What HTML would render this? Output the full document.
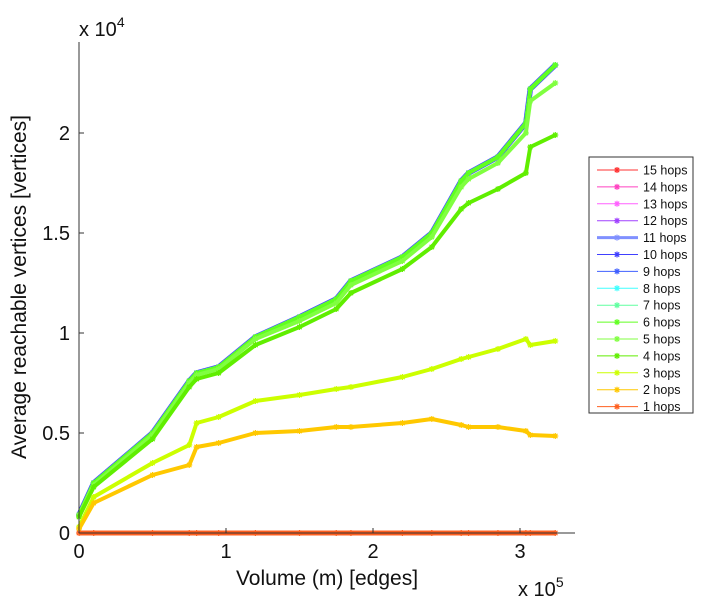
<!DOCTYPE html>
<html><head><meta charset="utf-8"><style>
body{margin:0;background:#fff;}
svg text{font-family:"Liberation Sans",sans-serif;fill:#111;}
</style></head><body>
<svg id="chart" width="703" height="600" viewBox="0 0 703 600" xmlns="http://www.w3.org/2000/svg">
<g id="plot"></g>
<g id="axes"></g>
<g id="legend"></g>
</svg>
<script>
const xValues = [0,0.1,0.5,0.75,0.8,0.95,1.2,1.5,1.75,1.85,2.2,2.4,2.6,2.65,2.85,3.04,3.07,3.24];
const hopsTop = [0.09,0.25,0.5,0.76,0.80,0.83,0.98,1.08,1.17,1.26,1.38,1.50,1.76,1.80,1.88,2.05,2.22,2.34];
const hops5 = [0.09,0.24,0.49,0.75,0.79,0.82,0.97,1.06,1.15,1.24,1.36,1.48,1.73,1.77,1.85,2.00,2.16,2.25];
const hops4 = [0.08,0.23,0.47,0.73,0.77,0.80,0.94,1.03,1.12,1.20,1.32,1.43,1.62,1.65,1.72,1.80,1.93,1.99];
const hops3 = [0.03,0.18,0.35,0.44,0.55,0.58,0.66,0.69,0.72,0.73,0.78,0.82,0.87,0.88,0.92,0.97,0.94,0.96];
const hops2 = [0.02,0.15,0.29,0.34,0.43,0.45,0.50,0.51,0.53,0.53,0.55,0.57,0.54,0.53,0.53,0.51,0.49,0.485];
const hops1 = [0,0,0,0,0,0,0,0,0,0,0,0,0,0,0,0,0,0];
const seriesNames = ["15 hops","14 hops","13 hops","12 hops","11 hops","10 hops","9 hops","8 hops","7 hops","6 hops","5 hops","4 hops","3 hops","2 hops","1 hops"];
const seriesColors = ["#ff3030","#ff40c0","#ff60ff","#a040ff","#8090ff","#4040ff","#4060ff","#40ffff","#60ffa0","#60ff20","#80ff40","#60ee00","#ccff00","#ffc800","#ff6020"];
const seriesValues = [hopsTop,hopsTop,hopsTop,hopsTop,hopsTop,hopsTop,hopsTop,hopsTop,hopsTop,hopsTop,hops5,hops4,hops3,hops2,hops1];
const yTicks = [0,0.5,1,1.5,2];
const yTickLabels = ["0","0.5","1","1.5","2"];
const xTicks = [0,1,2,3];
const xTickLabels = ["0","1","2","3"];

const NS="http://www.w3.org/2000/svg";
const X0=79,Y0=533,XS=147,YS=200,XR=575,YT=42;
const xp=v=>X0+v*XS, yp=v=>Y0-v*YS;
function mk(tag,attrs,parent){const e=document.createElementNS(NS,tag);for(const k in attrs)e.setAttribute(k,attrs[k]);parent.appendChild(e);return e;}
function star(g,x,y,c){
  const p=mk('path',{d:`M${x-3} ${y}h6M${x} ${y-3}v6M${x-2.2} ${y-2.2}l4.4 4.4M${x-2.2} ${y+2.2}l4.4 -4.4`,stroke:c,'stroke-width':1.2,fill:'none'},g);
  
  
}
const plot=document.getElementById('plot');
for(let s=0;s<seriesValues.length;s++){
  const g=mk('g',{},plot);
  
  
  const vals=seriesValues[s];
  const d=vals.map((v,i)=>(i?'L':'M')+xp(xValues[i]).toFixed(1)+' '+yp(v).toFixed(1)).join(' ');
  const w = s==5 ? 5.5 : (s==14 ? 5 : 4);
  const l=mk('path',{d:d,stroke:seriesColors[s],'stroke-width':w,fill:'none','stroke-linejoin':'round'},g);
  
  
  vals.forEach((v,i)=>star(g,xp(xValues[i]),yp(v),seriesColors[s]));
}
const axes=document.getElementById('axes');
let a=mk('line',{x1:X0,y1:YT,x2:X0,y2:Y0,stroke:'#333','stroke-width':1},axes);

a=mk('line',{x1:X0,y1:Y0,x2:XR,y2:Y0,stroke:'#333','stroke-width':1},axes);

yTicks.forEach((v,i)=>{
  const t=mk('text',{x:X0-9,y:yp(v)+7,'text-anchor':'end','font-size':20},axes);t.textContent=yTickLabels[i];
  
  mk('line',{x1:X0,y1:yp(v),x2:X0+5,y2:yp(v),stroke:'#333'},axes);
});
xTicks.forEach((v,i)=>{
  const t=mk('text',{x:xp(v),y:558,'text-anchor':'middle','font-size':20},axes);t.textContent=xTickLabels[i];
  
  mk('line',{x1:xp(v),y1:Y0,x2:xp(v),y2:Y0-5,stroke:'#333'},axes);
});
let t=mk('text',{x:327,y:585,'text-anchor':'middle','font-size':21},axes);t.textContent='Volume (m) [edges]';

t=mk('text',{x:0,y:0,'text-anchor':'middle','font-size':21,transform:'translate(26,287) rotate(-90)'},axes);t.textContent='Average reachable vertices [vertices]';

t=mk('text',{x:79,y:36,'font-size':20},axes);t.innerHTML='x 10<tspan dy="-9" font-size="14">4</tspan>';

t=mk('text',{x:518,y:596,'font-size':20},axes);t.innerHTML='x 10<tspan dy="-9" font-size="14">5</tspan>';


const lg=document.getElementById('legend');
const box=mk('rect',{x:589,y:157,width:104,height:256,fill:'#fff',stroke:'#333','stroke-width':1},lg);

seriesNames.forEach((n,i)=>{
  const y=170+i*16.9;
  const g=mk('g',{},lg);
  
  
  mk('line',{x1:597,y1:y,x2:638,y2:y,stroke:seriesColors[i],'stroke-width':i==4?3:1},g);
  star(g,617,y,seriesColors[i]);
  const tx=mk('text',{x:643,y:y+4.5,'font-size':12.5},g);tx.textContent=n;
  
  
});
</script>
</body></html>
